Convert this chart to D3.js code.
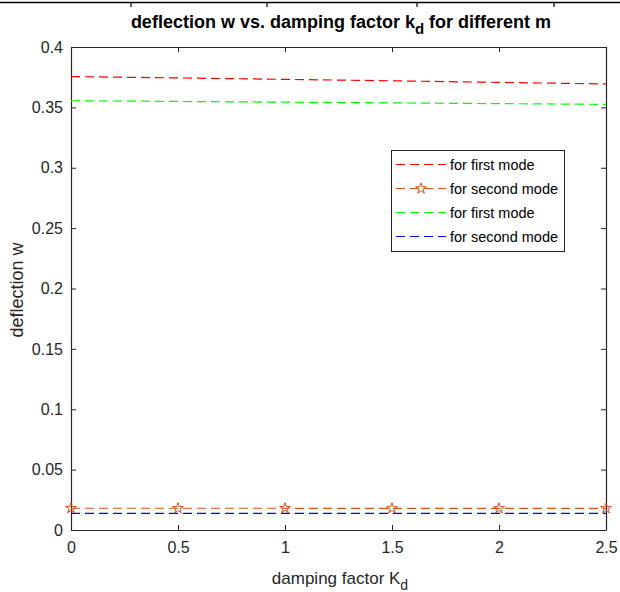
<!DOCTYPE html>
<html><head><meta charset="utf-8">
<script src="https://cdn.jsdelivr.net/npm/d3@7"></script>
<style>body{margin:0;background:#fff;} svg{display:block;font-family:"Liberation Sans",Arial,sans-serif;}</style>
</head><body>
<svg id="c" width="620" height="592"></svg>
<script>
const kd = [0, 0.5, 1, 1.5, 2, 2.5];
const firstModeRed = [0.3755, 0.3744, 0.3732, 0.3720, 0.3707, 0.3694];
const secondModeStar = [0.0180, 0.0180, 0.0180, 0.0179, 0.0179, 0.0179];
const firstModeGreen = [0.3555, 0.3549, 0.3543, 0.3537, 0.3531, 0.3525];
const secondModeBlue = [0.0138, 0.0138, 0.0138, 0.0138, 0.0138, 0.0138];
const xTicks = [0, 0.5, 1, 1.5, 2, 2.5];
const yTicks = [0, 0.05, 0.1, 0.15, 0.2, 0.25, 0.3, 0.35, 0.4];
const legendLabels = ["for first mode", "for second mode", "for first mode", "for second mode"];
const topRemnantTicks = [131, 267, 417, 554];

const series = [
  {vals: firstModeRed, color: "#ff0000", marker: false},
  {vals: secondModeStar, color: "#d95319", marker: true},
  {vals: firstModeGreen, color: "#00ff00", marker: false},
  {vals: secondModeBlue, color: "#0000ff", marker: false}
];

const svg = d3.select("#c");
const L = 71, R = 606, T = 47, B = 530;
const x = d3.scaleLinear().domain([0, 2.5]).range([L, R]);
const y = d3.scaleLinear().domain([0, 0.4]).range([B, T]);
const axCol = "#262626";

// remnant of previous figure at the top
svg.append("line").attr("x1", 0).attr("x2", 620).attr("y1", 2.5).attr("y2", 2.5).attr("stroke", "#000").attr("stroke-width", 1.5);
svg.selectAll(".rt").data(topRemnantTicks).enter().append("line")
  .attr("x1", d => d).attr("x2", d => d).attr("y1", 2).attr("y2", 7).attr("stroke", "#000").attr("stroke-width", 1.2);

// axes
const fs = "16px";
const xAxis = d3.axisBottom(x).tickValues(xTicks).tickFormat(d3.format("")).tickSizeInner(-5).tickSizeOuter(0).tickPadding(12);
const gx = svg.append("g").attr("transform", `translate(0,${B})`).call(xAxis);
const yAxis = d3.axisLeft(y).tickValues(yTicks).tickFormat(d => d3.format("")(+d.toFixed(2))).tickSizeInner(-5).tickSizeOuter(0).tickPadding(8);
const gy = svg.append("g").attr("transform", `translate(${L},0)`).call(yAxis);
const xTop = d3.axisTop(x).tickValues(xTicks).tickFormat("").tickSizeInner(-5).tickSizeOuter(0);
const gt = svg.append("g").attr("transform", `translate(0,${T})`).call(xTop);
const yRight = d3.axisRight(y).tickValues(yTicks).tickFormat("").tickSizeInner(-5).tickSizeOuter(0);
const gr = svg.append("g").attr("transform", `translate(${R},0)`).call(yRight);
[gx, gy, gt, gr].forEach(g => {
  g.selectAll("path").attr("stroke", axCol).attr("stroke-width", 1.2);
  g.selectAll("line").attr("stroke", axCol);
  g.selectAll("text").attr("fill", axCol).style("font-size", fs).style("font-family", "Liberation Sans, Arial, sans-serif");
});

// lines
const line = d3.line().x((d, i) => x(kd[i])).y(d => y(d));
series.forEach(s => {
  svg.append("path").datum(s.vals).attr("d", line).attr("fill", "none")
    .attr("stroke", s.color).attr("stroke-width", 1.2).attr("stroke-dasharray", "9,5");
});

const star = d3.symbol().type(d3.symbolStar).size(36);
const s2 = series[1];
svg.selectAll(".mk").data(s2.vals).enter().append("path")
  .attr("d", star).attr("transform", (d, i) => `translate(${x(kd[i])},${y(d)})`)
  .attr("fill", "none").attr("stroke", s2.color).attr("stroke-width", 1);

// legend
const lg = svg.append("g");
lg.append("rect").attr("x", 391.5).attr("y", 150.5).attr("width", 173).attr("height", 101)
  .attr("fill", "#fff").attr("stroke", axCol).attr("stroke-width", 1);
series.forEach((s, i) => {
  const yy = 164.5 + i * 24;
  lg.append("line").attr("x1", 396).attr("x2", 446).attr("y1", yy).attr("y2", yy)
    .attr("stroke", s.color).attr("stroke-width", 1.2).attr("stroke-dasharray", "9,5");
  if (s.marker) lg.append("path").attr("d", star).attr("transform", `translate(421,${yy})`)
    .attr("fill", "none").attr("stroke", s.color).attr("stroke-width", 1);
  lg.append("text").attr("x", 450).attr("y", yy + 5).text(legendLabels[i])
    .attr("fill", "#000").style("font-size", "14.5px");
});

// title
const tt = svg.append("text").attr("x", 341).attr("y", 28).attr("text-anchor", "middle")
  .style("font-weight", "bold").style("font-size", "18px").attr("fill", "#000");
tt.append("tspan").text("deflection w vs. damping factor k");
tt.append("tspan").text("d").attr("dy", 6).style("font-size", "15px");
tt.append("tspan").text(" for different m").attr("dy", -6);

// x label
const xl = svg.append("text").attr("x", 340).attr("y", 584).attr("text-anchor", "middle")
  .style("font-size", "17px").attr("fill", axCol);
xl.append("tspan").text("damping factor K");
xl.append("tspan").text("d").attr("dy", 6).style("font-size", "14px");

// y label
svg.append("text").attr("transform", "translate(23,290) rotate(-90)").attr("text-anchor", "middle")
  .style("font-size", "18px").attr("fill", axCol).text("deflection w");
</script>
</body></html>
